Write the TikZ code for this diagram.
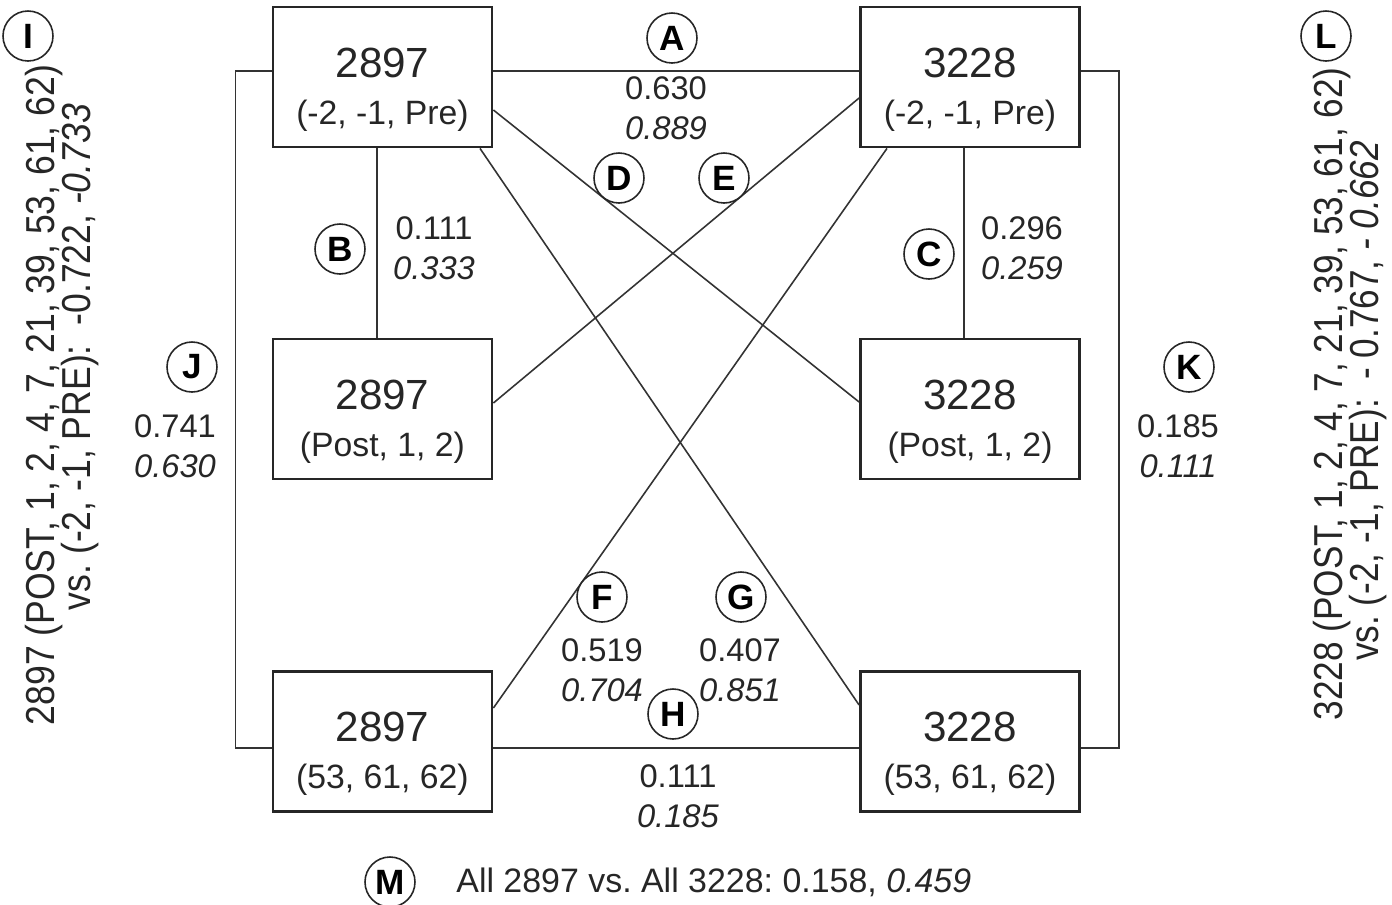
\documentclass[tikz,border=0pt]{standalone}
\usepackage{fontspec}
\setmainfont{Liberation Sans}
\usetikzlibrary{calc}
\frenchspacing

\begin{document}
\begin{tikzpicture}[x=0.1mm, y=-0.1mm,
    box/.style={draw=black!85, line width=0.8pt, minimum width=2.19cm, minimum height=1.40cm, inner sep=0pt},
    boxtext/.style={align=center, text=black!85, font=\fontsize{9.6}{13.4}\selectfont, yshift=-3.6pt},
    tag/.style={circle, draw=black!85, fill=white, line width=0.45pt, minimum size=0.5cm, inner sep=0pt, font=\fontsize{10}{10}\selectfont\bfseries},
    val/.style={align=center, text=black!85, font=\fontsize{9.3}{11.4}\selectfont},
    side/.style={align=center, text=black!85, font=\fontsize{11.5}{13}\selectfont, rotate=90},
    link/.style={draw=black!80, line width=0.45pt}]

    % Page frame
    \useasboundingbox (0,0) rectangle (1392,905);

    % Size of the first line in a box
    \def\big#1{{\fontsize{12}{13.4}\selectfont #1}}

    % Boxes, left column 2897, right column 3228
    \node[box] (pre2897)  at (382.5,77)  {};
    \node[box] (post2897) at (382.5,409) {};
    \node[box] (late2897) at (382.5,741.5) {};
    \node[box] (pre3228)  at (970,77)  {};
    \node[box] (post3228) at (970,409) {};
    \node[box] (late3228) at (970,741.5) {};

    \node[boxtext] (pre2897txt)  at (pre2897)  {\big{2897}\\(-2, -1, Pre)};
    \node[boxtext] (post2897txt) at (post2897) {\big{2897}\\(Post, 1, 2)};
    \node[boxtext] (late2897txt) at (late2897) {\big{2897}\\(53, 61, 62)};
    \node[boxtext] (pre3228txt)  at (pre3228)  {\big{3228}\\(-2, -1, Pre)};
    \node[boxtext] (post3228txt) at (post3228) {\big{3228}\\(Post, 1, 2)};
    \node[boxtext] (late3228txt) at (late3228) {\big{3228}\\(53, 61, 62)};

    % Straight connectors
    \draw[link] ($(pre2897.east)+(0,-6)$) -- ($(pre3228.west)+(0,-6)$);       % A
    \draw[link] ($(pre2897.south)+(-5.5,0)$) -- ($(post2897.north)+(-5.5,0)$); % B
    \draw[link] ($(pre3228.south)+(-6,0)$) -- ($(post3228.north)+(-6,0)$);     % C
    \draw[link] ($(late2897.east)+(0,6.5)$) -- ($(late3228.west)+(0,6.5)$);    % H

    % Outer brackets
    \draw[link] ($(pre2897.west)+(0,-6)$) -- ++(-36,0) |- ($(late2897.west)+(0,6.5)$); % J
    \draw[link] ($(pre3228.east)+(0,-6)$) -- ++(38,0) |- ($(late3228.east)+(0,6.5)$);  % K

    % Crossing connectors
    \draw[link] ($(pre2897.east)+(0,33)$) -- ($(post3228.west)+(0,-7)$);      % D
    \draw[link] ($(pre3228.west)+(0,21)$) -- ($(post2897.east)+(0,-6)$);      % E
    \draw[link] ($(pre3228.south)+(-83,0)$) -- ($(late2897.east)+(0,-33.5)$); % F
    \draw[link] ($(pre2897.south)+(97.5,0)$) -- ($(late3228.west)+(0,-36.5)$); % G

    % Letters
    \node[tag] (tA) at (672,38)  {A};
    \node[tag] (tB) at (340,249) {B};
    \node[tag] (tC) at (929,254) {C};
    \node[tag] (tD) at (619,178) {D};
    \node[tag] (tE) at (724,178) {E};
    \node[tag] (tF) at (602,597) {F};
    \node[tag] (tG) at (741,597) {G};
    \node[tag] (tH) at (673,714) {H};
    \node[tag] (tI) at (28,36)   {I};
    \node[tag] (tJ) at (192,367) {J};
    \node[tag] (tK) at (1189,367) {K};
    \node[tag] (tL) at (1326,36) {L};
    \node[tag] (tM) at (390,882) {M};

    % Values
    \node[val] (vA) at (666,108) {0.630\\\textit{0.889}};
    \node[val] (vB) at (434,248) {0.111\\\textit{0.333}};
    \node[val] (vC) at (1022,248) {0.296\\\textit{0.259}};
    \node[val] (vF) at (602,670) {0.519\\\textit{0.704}};
    \node[val] (vG) at (740,670) {0.407\\\textit{0.851}};
    \node[val] (vH) at (678,796) {0.111\\\textit{0.185}};
    \node[val] (vJ) at (175,446) {0.741\\\textit{0.630}};
    \node[val] (vK) at (1178,446) {0.185\\\textit{0.111}};

    % Whole group comparisons
    \node[side] (sideI1) at (44,395) {\scalebox{0.88}[1]{2897 (POST, 1, 2, 4, 7, 21, 39, 53, 61, 62)}};
    \node[side] (sideI2) at (80,357) {\scalebox{0.88}[1]{vs. (-2, -1, PRE):~~-0.722, \textit{-0.733}}};
    \node[side] (sideL1) at (1332,394) {\scalebox{0.87}[1]{3228 (POST, 1, 2, 4, 7, 21, 39, 53, 61, 62)}};
    \node[side] (sideL2) at (1368,401) {\scalebox{0.87}[1]{vs. (-2, -1, PRE):~~- 0.767, \textit{- 0.662}}};

    \node[val, anchor=west, font=\fontsize{9.65}{11.4}\selectfont] (allM) at (444,882) {All 2897 vs. All 3228: 0.158, \textit{0.459}};

\end{tikzpicture}
\end{document}
